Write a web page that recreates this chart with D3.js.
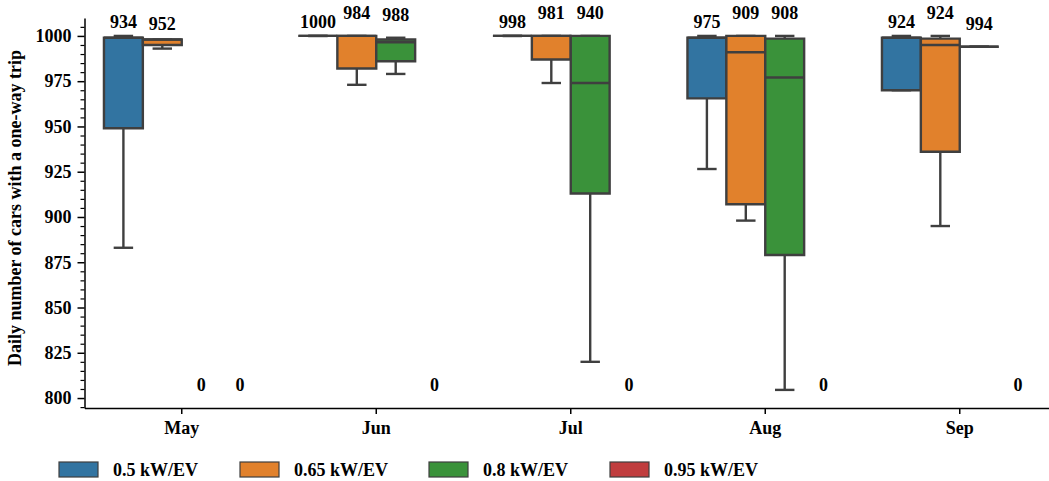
<!DOCTYPE html>
<html>
<head>
<meta charset="utf-8">
<script src="https://cdn.jsdelivr.net/npm/d3@7"></script>
<style>
  html, body { margin: 0; padding: 0; background: #fff; }
  svg { display: block; }
  text { font-family: "Liberation Serif", "Times New Roman", serif; font-weight: bold; fill: #000; }
</style>
</head>
<body>
<svg id="chart" width="1049" height="481"></svg>
<script>
// Months on the x axis and the charging-power scenarios drawn as hues
const months = ["May", "Jun", "Jul", "Aug", "Sep"];
const series = ["0.5 kW/EV", "0.65 kW/EV", "0.8 kW/EV", "0.95 kW/EV"];
const colors = ["#3274a1", "#e1812c", "#3a923a", "#c03d3e"];

// Box statistics per month: [lower whisker, Q1, median, Q3, upper whisker]; null = no trips
const stats05  = [[883, 949, 999, 999, 1000], [1000, 1000, 1000, 1000, 1000], [1000, 1000, 1000, 1000, 1000], [926.5, 965.5, 999, 999, 1000], [970, 970, 999, 999, 1000]];
const stats065 = [[993, 995, 998, 998, 998], [973, 982, 1000, 1000, 1000], [974, 987, 1000, 1000, 1000], [898, 907, 991, 1000, 1000], [895, 936, 995, 998.5, 1000]];
const stats08  = [null, [979, 986, 996.5, 998, 999], [820, 913, 974, 1000, 1000], [804.5, 879, 977, 998.5, 1000], [994, 994, 994, 994, 994]];
const stats095 = [null, null, null, null, null];

// Highest daily count per box (outliers not drawn); annotation sits above it
const peak05  = [1000, 1000, 1000, 1000, 1000];
const peak065 = [999, 1005, 1005, 1005, 1005];
const peak08  = [null, 1004, 1005, 1005, 999];
const peak095 = [null, null, null, null, null];

// Numbers written above each box
const labels05  = [934, 1000, 998, 975, 924];
const labels065 = [952, 984, 981, 909, 924];
const labels08  = [0, 988, 940, 908, 994];
const labels095 = [0, 0, 0, 0, 0];

const yMajorTicks = [800, 825, 850, 875, 900, 925, 950, 975, 1000];

const allStats = [stats05, stats065, stats08, stats095];
const allPeaks = [peak05, peak065, peak08, peak095];
const allLabels = [labels05, labels065, labels08, labels095];

const svg = d3.select("#chart");
const plotLeft = 84.5, plotBottom = 408, plotTop = 18;
const lineColor = "#3f3f3f";

const x = d3.scaleBand().domain(months).range([plotLeft, plotLeft + 5 * 194.5]).padding(0);
const hue = d3.scaleBand().domain(series).range([0.1 * x.bandwidth(), 0.9 * x.bandwidth()]).padding(0);
const y = d3.scaleLinear().domain([794.5, 1009.9]).range([plotBottom, plotTop]);

// Axes
const yMinor = d3.range(795, 1010, 5).filter(v => v % 25 !== 0);
svg.append("g")
  .attr("transform", `translate(${plotLeft},0)`)
  .call(d3.axisLeft(y).tickValues(yMinor).tickSize(4).tickFormat(""))
  .call(g => g.select(".domain").remove())
  .call(g => g.selectAll("line").attr("stroke", "#000").attr("stroke-width", 1.2));

const yAxis = svg.append("g")
  .attr("transform", `translate(${plotLeft},0)`)
  .call(d3.axisLeft(y).tickValues(yMajorTicks).tickSize(7).tickPadding(6).tickSizeOuter(0).tickFormat(d3.format("d")));
yAxis.select(".domain").attr("stroke", "#000").attr("stroke-width", 1.5);
yAxis.selectAll("line").attr("stroke", "#000").attr("stroke-width", 1.5);
yAxis.selectAll("text").style("font-size", "18px").style("font-family", null);

const xAxis = svg.append("g")
  .attr("transform", `translate(0,${plotBottom})`)
  .call(d3.axisBottom(x).tickSize(6).tickPadding(7).tickSizeOuter(0));
xAxis.select(".domain").attr("stroke", "#000").attr("stroke-width", 1.5);
xAxis.selectAll("line").attr("stroke", "#000").attr("stroke-width", 1.5);
xAxis.selectAll("text").style("font-size", "18px").style("font-family", null);

svg.append("text")
  .attr("transform", "translate(21,208) rotate(-90)")
  .attr("text-anchor", "middle")
  .style("font-size", "18px")
  .text("Daily number of cars with a one-way trip");

// Boxes
const plot = svg.append("g");
series.forEach((s, si) => {
  months.forEach((m, mi) => {
    const st = allStats[si][mi];
    const x0 = x(m) + hue(s);
    const w = hue.bandwidth();
    const cx = x0 + w / 2;
    const label = allLabels[si][mi];
    if (st) {
      const [lo, q1, med, q3, hi] = st;
      const g = plot.append("g").attr("stroke", lineColor).attr("stroke-width", 2.4).attr("fill", "none");
      // whiskers
      g.append("line").attr("x1", cx).attr("x2", cx).attr("y1", y(q1)).attr("y2", y(lo));
      g.append("line").attr("x1", cx).attr("x2", cx).attr("y1", y(q3)).attr("y2", y(hi));
      g.append("line").attr("x1", cx - w / 4).attr("x2", cx + w / 4).attr("y1", y(lo)).attr("y2", y(lo));
      g.append("line").attr("x1", cx - w / 4).attr("x2", cx + w / 4).attr("y1", y(hi)).attr("y2", y(hi));
      // box
      g.append("path")
        .attr("d", `M${x0},${y(q3)}H${x0 + w}V${y(q1)}H${x0}Z`)
        .attr("fill", colors[si]);
      // median
      g.append("line").attr("x1", x0).attr("x2", x0 + w).attr("y1", y(med)).attr("y2", y(med));
      svg.append("text")
        .attr("x", cx)
        .attr("y", y(allPeaks[si][mi]) - 7.7)
        .attr("text-anchor", "middle")
        .style("font-size", "18px")
        .text(label);
    } else {
      svg.append("text")
        .attr("x", cx)
        .attr("y", plotBottom - 17)
        .attr("text-anchor", "middle")
        .style("font-size", "18px")
        .text(label);
    }
  });
});

// Legend
const legendX = [59, 240, 429, 610];
const legend = svg.append("g");
series.forEach((s, i) => {
  legend.append("rect")
    .attr("x", legendX[i]).attr("y", 462)
    .attr("width", 39).attr("height", 15)
    .attr("fill", colors[i])
    .attr("stroke", lineColor).attr("stroke-width", 1.2);
  legend.append("text")
    .attr("x", legendX[i] + 54).attr("y", 476)
    .style("font-size", "18px")
    .text(s);
});
</script>
</body>
</html>
